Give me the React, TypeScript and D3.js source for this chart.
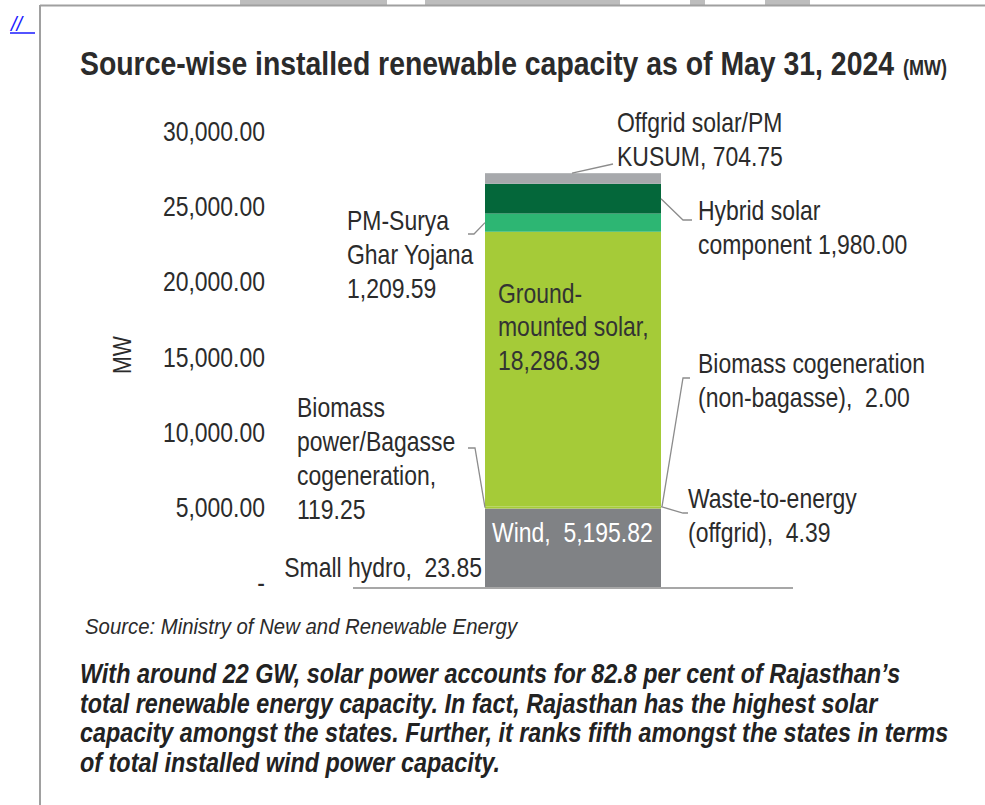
import * as d3 from "d3";
import { useLayoutEffect, useRef, useState } from "react";
import type { ReactNode } from "react";

/* ------------------------------------------------------------------ */
/*  Data                                                               */
/* ------------------------------------------------------------------ */

const sources = [
  "Wind",
  "Small hydro",
  "Biomass power/Bagasse cogeneration",
  "Biomass cogeneration (non-bagasse)",
  "Waste-to-energy (offgrid)",
  "Ground-mounted solar",
  "PM-Surya Ghar Yojana",
  "Hybrid solar component",
  "Offgrid solar/PM KUSUM",
];
const capacityMW = [5195.82, 23.85, 119.25, 2.0, 4.39, 18286.39, 1209.59, 1980.0, 704.75];
const sourceColors = [
  "#808285",
  "#808285",
  "#a5cb38",
  "#a5cb38",
  "#a5cb38",
  "#a5cb38",
  "#2db673",
  "#04673a",
  "#a7a9ac",
];
const yTicks = [0, 5000, 10000, 15000, 20000, 25000, 30000];
const category = ["Rajasthan"];

const titleText = "Source-wise installed renewable capacity as of May 31, 2024";
const sourceText = "Source: Ministry of New and Renewable Energy";
const noteLines = [
  "With around 22 GW, solar power accounts for 82.8 per cent of Rajasthan\u2019s",
  "total renewable energy capacity. In fact, Rajasthan has the highest solar",
  "capacity amongst the states. Further, it ranks fifth amongst the states in terms",
  "of total installed wind power capacity.",
];
const noteWidths = [820, 797, 868, 420];

/* ------------------------------------------------------------------ */
/*  Theme                                                              */
/* ------------------------------------------------------------------ */

const TEXT = "#2b2b2b";
const LEADER = "#8c8c8c";
const FONT = "'Liberation Sans', Arial, sans-serif";
const SQ = 0.82; // horizontal squeeze -> narrow face look
const SP2 = "\u00a0 "; // double space that survives svg whitespace rules

/* Narrow text: Liberation Sans squeezed horizontally */
function NText({
  x,
  y,
  size = 28,
  anchor = "start",
  fill = TEXT,
  lines,
  lead = 34,
}: {
  x: number;
  y: number;
  size?: number;
  anchor?: "start" | "middle" | "end";
  fill?: string;
  lines: ReactNode[];
  lead?: number;
}) {
  return (
    <g transform={`translate(${x},${y}) scale(${SQ},1)`}>
      <text fill={fill} fontSize={size} textAnchor={anchor}>
        {lines.map((l, j) => (
          <tspan key={j} x={0} y={j * lead}>
            {l}
          </tspan>
        ))}
      </text>
    </g>
  );
}

/* Text squeezed to a measured target width */
function FitText({
  x,
  y,
  width,
  size,
  weight,
  italic,
  fill = TEXT,
  children,
}: {
  x: number;
  y: number;
  width: number;
  size: number;
  weight?: string;
  italic?: boolean;
  fill?: string;
  children: string;
}) {
  const ref = useRef<SVGTextElement>(null);
  const [k, setK] = useState(SQ);
  useLayoutEffect(() => {
    const len = ref.current?.getComputedTextLength() ?? 0;
    if (len > 0) setK(width / len);
  }, [width, children, size]);
  return (
    <g transform={`translate(${x},${y}) scale(${k},1)`}>
      <text
        ref={ref}
        fill={fill}
        fontSize={size}
        fontWeight={weight}
        fontStyle={italic ? "italic" : undefined}
      >
        {children}
      </text>
    </g>
  );
}

export default function App() {
  const W = 985;
  const H = 805;

  const x = d3
    .scaleBand<string>()
    .domain(category)
    .range([353, 793])
    .paddingOuter(0.75)
    .paddingInner(0);
  const y = d3.scaleLinear().domain([0, 30000]).range([587, 136]);

  const tops = d3.cumsum(capacityMW);
  const segs = capacityMW.map((v, i) => ({
    name: sources[i],
    value: v,
    y0: tops[i] - v,
    y1: tops[i],
    color: sourceColors[i],
  }));
  const mid = (i: number) => y((segs[i].y0 + segs[i].y1) / 2);

  const bx0 = x("Rajasthan") as number;
  const bx1 = bx0 + x.bandwidth();
  const fmt = d3.format(",.2f");

  /* Callout labels: text lines + leader polyline (bar end computed from scale) */
  const callouts = [
    {
      lines: ["Offgrid solar/PM", `KUSUM, ${fmt(capacityMW[8])}`],
      tx: 617, ty: 132, anchor: "start",
      leader: [[bx0 + 87, y(segs[8].y1)], [613, 164]],
    },
    {
      lines: ["Hybrid solar", `component ${fmt(capacityMW[7])}`],
      tx: 698, ty: 220, anchor: "start",
      leader: [[bx1, mid(7)], [683, 220], [692, 220]],
    },
    {
      lines: ["PM-Surya", "Ghar Yojana", fmt(capacityMW[6])],
      tx: 347, ty: 230, anchor: "start",
      leader: [[bx0, mid(6)], [474, 234], [468, 234]],
    },
    {
      lines: ["Biomass", "power/Bagasse", "cogeneration,", fmt(capacityMW[2])],
      tx: 297, ty: 417, anchor: "start",
      leader: [[bx0, mid(2)], [475, 448], [468, 448]],
    },
    {
      lines: [`Small hydro,${SP2}${fmt(capacityMW[1])}`],
      tx: 482, ty: 577, anchor: "end",
      leader: [],
    },
    {
      lines: ["Biomass cogeneration", `(non-bagasse),${SP2}${fmt(capacityMW[3])}`],
      tx: 698, ty: 373, anchor: "start",
      leader: [[bx1 + 1, mid(3)], [683, 378], [690, 378]],
    },
    {
      lines: ["Waste-to-energy", `(offgrid),${SP2}${fmt(capacityMW[4])}`],
      tx: 688, ty: 508, anchor: "start",
      leader: [[bx1, mid(4)], [683, 513], [688, 513]],
    },
  ];

  const line = d3.line();

  return (
    <svg
      width={W}
      height={H}
      viewBox={`0 0 ${W} ${H}`}
      style={{ position: "absolute", left: 0, top: 0, background: "#fff", fontFamily: FONT }}
    >
      {/* faint page artefacts above the frame */}
      <g fill="#bdbdbd">
        <rect x={240} y={0} width={147} height={5} />
        <rect x={425} y={0} width={195} height={5} />
        <rect x={690} y={0} width={15} height={5} />
        <rect x={765} y={0} width={45} height={5} />
      </g>

      {/* frame */}
      <line x1={40} x2={W} y1={5.5} y2={5.5} stroke="#a0a0a0" strokeWidth={2} />
      <line x1={40} x2={40} y1={5} y2={H} stroke="#a0a0a0" strokeWidth={2} />

      {/* link mark */}
      <text x={11} y={31} fill="#1a1aff" fontSize={20} fontStyle="italic">
        //
      </text>
      <line x1={10} x2={35} y1={33} y2={33} stroke="#1a1aff" strokeWidth={1.5} />

      {/* title */}
      <FitText x={80} y={75} width={814} size={33} weight="bold">
        {titleText}
      </FitText>
      <g transform={`translate(903,75) scale(${SQ},1)`}>
        <text fill={TEXT} fontWeight="bold" fontSize={22}>(MW)</text>
      </g>

      {/* y axis label */}
      <g transform="translate(131,355) rotate(-90)">
        <NText x={0} y={0} size={26} anchor="middle" lines={["MW"]} />
      </g>

      {/* y ticks */}
      {yTicks.map((t) => (
        <NText
          key={t}
          x={265}
          y={y(t) + 5}
          anchor="end"
          lines={[t === 0 ? "-" : fmt(t)]}
        />
      ))}

      {/* stacked bar */}
      {segs.map((s) => (
        <rect
          key={s.name}
          x={bx0}
          width={x.bandwidth()}
          y={y(s.y1)}
          height={y(s.y0) - y(s.y1)}
          fill={s.color}
        />
      ))}

      {/* baseline */}
      <line x1={353} x2={793} y1={588} y2={588} stroke="#8a8a8a" strokeWidth={1.5} />

      {/* in-bar labels */}
      <NText
        x={bx0 + 13}
        y={303}
        fill="#333"
        lead={33.5}
        lines={["Ground-", "mounted solar,", fmt(capacityMW[5])]}
      />
      <NText x={bx0 + 7} y={542} fill="#fff" lines={[`Wind,${SP2}${fmt(capacityMW[0])}`]} />

      {/* callouts */}
      {callouts.map((c, i) => (
        <g key={i}>
          {c.leader.length > 0 && (
            <path
              d={line(c.leader as [number, number][]) ?? ""}
              fill="none"
              stroke={LEADER}
              strokeWidth={1.3}
            />
          )}
          <NText x={c.tx} y={c.ty} anchor={c.anchor as "start" | "end"} lines={c.lines} />
        </g>
      ))}

      {/* source */}
      <FitText x={85} y={634} width={432} size={22} italic>
        {sourceText}
      </FitText>

      {/* note */}
      {noteLines.map((l, i) => (
        <FitText
          key={i}
          x={80}
          y={683 + i * 29.5}
          width={noteWidths[i]}
          size={27}
          weight="bold"
          italic
          fill="#222"
        >
          {l}
        </FitText>
      ))}
    </svg>
  );
}
